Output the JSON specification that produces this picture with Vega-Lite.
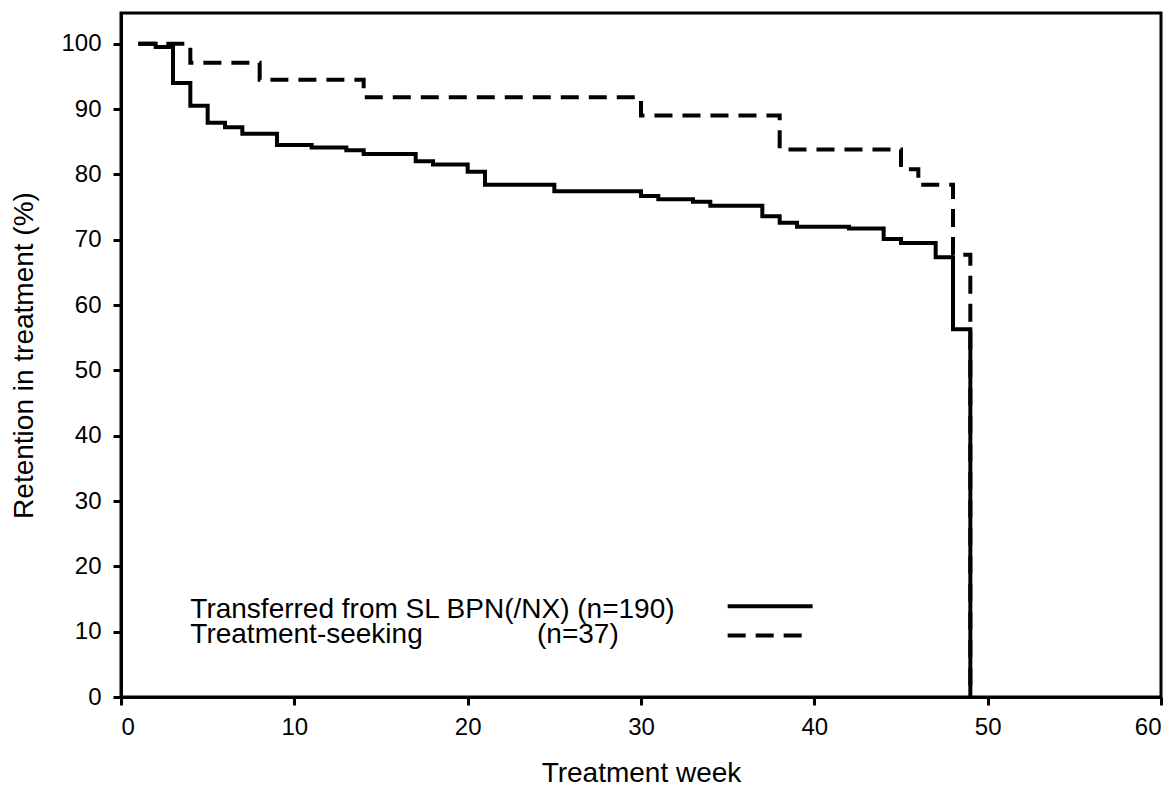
{
  "$schema": "https://vega.github.io/schema/vega-lite/v6.json",
  "width": 1040,
  "height": 684,
  "autosize": {"type": "none"},
  "padding": {"left": 121, "top": 13, "right": 13, "bottom": 90},
  "background": "white",
  "config": {
    "view": {"stroke": "black", "strokeWidth": 3},
    "font": "Liberation Sans",
    "axis": {
      "domainColor": "black", "domainWidth": 3, "tickColor": "black", "tickWidth": 3, "tickSize": 8,
      "grid": false, "labelFont": "Liberation Sans", "labelFontSize": 24, "labelColor": "black",
      "titleFont": "Liberation Sans", "titleFontSize": 28, "titleFontWeight": "normal", "titleColor": "black"
    }
  },
  "datasets": {
    "curves": [
      {"week": 1, "retention": 100, "group": "Transferred"},
      {"week": 2, "retention": 99.5, "group": "Transferred"},
      {"week": 3, "retention": 94.0, "group": "Transferred"},
      {"week": 4, "retention": 90.5, "group": "Transferred"},
      {"week": 5, "retention": 87.9, "group": "Transferred"},
      {"week": 6, "retention": 87.2, "group": "Transferred"},
      {"week": 7, "retention": 86.2, "group": "Transferred"},
      {"week": 9, "retention": 84.5, "group": "Transferred"},
      {"week": 11, "retention": 84.1, "group": "Transferred"},
      {"week": 13, "retention": 83.7, "group": "Transferred"},
      {"week": 14, "retention": 83.1, "group": "Transferred"},
      {"week": 17, "retention": 82.0, "group": "Transferred"},
      {"week": 18, "retention": 81.5, "group": "Transferred"},
      {"week": 20, "retention": 80.4, "group": "Transferred"},
      {"week": 21, "retention": 78.4, "group": "Transferred"},
      {"week": 25, "retention": 77.4, "group": "Transferred"},
      {"week": 30, "retention": 76.7, "group": "Transferred"},
      {"week": 31, "retention": 76.2, "group": "Transferred"},
      {"week": 33, "retention": 75.8, "group": "Transferred"},
      {"week": 34, "retention": 75.2, "group": "Transferred"},
      {"week": 37, "retention": 73.6, "group": "Transferred"},
      {"week": 38, "retention": 72.6, "group": "Transferred"},
      {"week": 39, "retention": 72.0, "group": "Transferred"},
      {"week": 42, "retention": 71.7, "group": "Transferred"},
      {"week": 44, "retention": 70.1, "group": "Transferred"},
      {"week": 45, "retention": 69.5, "group": "Transferred"},
      {"week": 47, "retention": 67.3, "group": "Transferred"},
      {"week": 48, "retention": 56.3, "group": "Transferred"},
      {"week": 49, "retention": 0, "group": "Transferred"},
      {"week": 1, "retention": 100, "group": "Treatment-seeking"},
      {"week": 4, "retention": 97.1, "group": "Treatment-seeking"},
      {"week": 8, "retention": 94.5, "group": "Treatment-seeking"},
      {"week": 14, "retention": 91.8, "group": "Treatment-seeking"},
      {"week": 30, "retention": 89.0, "group": "Treatment-seeking"},
      {"week": 38, "retention": 83.8, "group": "Treatment-seeking"},
      {"week": 45, "retention": 80.8, "group": "Treatment-seeking"},
      {"week": 46, "retention": 78.4, "group": "Treatment-seeking"},
      {"week": 48, "retention": 67.7, "group": "Treatment-seeking"},
      {"week": 49, "retention": 0, "group": "Treatment-seeking"}
    ],
    "keylines": [
      {"x": 35, "x2": 39.9, "y": 13.9, "group": "Transferred"},
      {"x": 35, "x2": 39.3, "y": 9.4, "group": "Treatment-seeking"}
    ],
    "keytext": [
      {"x": 4, "y": 12.1, "label": "Transferred from SL BPN(/NX) (n=190)"},
      {"x": 4, "y": 8.2, "label": "Treatment-seeking"},
      {"x": 24.0, "y": 8.2, "label": "(n=37)"}
    ]
  },
  "layer": [
    {
      "data": {"name": "curves"},
      "mark": {"type": "line", "interpolate": "step-after", "color": "black", "strokeWidth": 4, "strokeCap": "butt"},
      "encoding": {
        "x": {"field": "week", "type": "quantitative", "scale": {"domain": [0, 60], "nice": false},
          "axis": {"values": [0, 10, 20, 30, 40, 50, 60], "title": "Treatment week", "labelPadding": 10, "titlePadding": 20}},
        "y": {"field": "retention", "type": "quantitative", "scale": {"domain": [0, 104.7], "nice": false},
          "axis": {"values": [0, 10, 20, 30, 40, 50, 60, 70, 80, 90, 100], "title": "Retention in treatment (%)", "labelPadding": 12, "titlePadding": 22}},
        "detail": {"field": "group"},
        "strokeDash": {"field": "group", "type": "nominal",
          "scale": {"domain": ["Transferred", "Treatment-seeking"], "range": [[1, 0], [18, 10]]}, "legend": null}
      }
    },
    {
      "data": {"name": "keylines"},
      "mark": {"type": "rule", "color": "black", "strokeWidth": 4, "strokeCap": "butt"},
      "encoding": {
        "x": {"field": "x", "type": "quantitative"},
        "x2": {"field": "x2"},
        "y": {"field": "y", "type": "quantitative"},
        "strokeDash": {"field": "group", "type": "nominal",
          "scale": {"domain": ["Transferred", "Treatment-seeking"], "range": [[1, 0], [18, 10]]}, "legend": null}
      }
    },
    {
      "data": {"name": "keytext"},
      "mark": {"type": "text", "align": "left", "baseline": "alphabetic", "fontSize": 28, "font": "Liberation Sans", "color": "black"},
      "encoding": {
        "x": {"field": "x", "type": "quantitative"},
        "y": {"field": "y", "type": "quantitative"},
        "text": {"field": "label"}
      }
    }
  ]
}
